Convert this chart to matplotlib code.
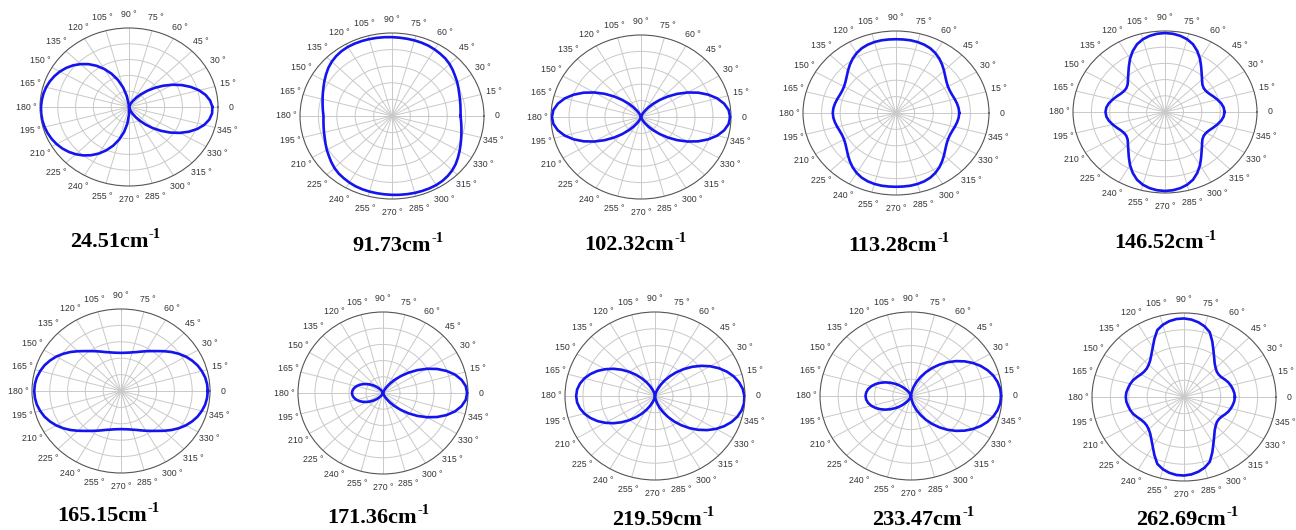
import numpy as np
import matplotlib
matplotlib.use("Agg")
import matplotlib.pyplot as plt
from matplotlib.transforms import IdentityTransform

# ---------------- data ----------------
ANGLES_DEG = list(range(0, 360, 5))           # sampling angles of every curve
TICK_ANGLES = list(range(0, 360, 15))         # labelled angular grid
LABELS = ["24.51", "91.73", "102.32", "113.28", "146.52",
          "165.15", "171.36", "219.59", "233.47", "262.69"]

R_24_51 = [0.937, 0.916, 0.875, 0.815, 0.741, 0.656, 0.564, 0.469, 0.377, 0.290,
           0.212, 0.146, 0.093, 0.053, 0.026, 0.010, 0.002, 0.000, 0.000,
           0.024, 0.142, 0.256, 0.364, 0.465, 0.556, 0.637, 0.708, 0.768, 0.820,
           0.862, 0.897, 0.925, 0.947, 0.964, 0.976, 0.984, 0.989, 0.990, 0.988,
           0.982, 0.972, 0.958, 0.939, 0.915, 0.884, 0.846, 0.800, 0.745, 0.681,
           0.606, 0.521, 0.426, 0.322, 0.211, 0.095,
           0.002, 0.010, 0.026, 0.053, 0.093, 0.146, 0.212, 0.290, 0.377, 0.469,
           0.564, 0.656, 0.741, 0.815, 0.875, 0.916, 0.937]
R_91_73 = [0.745, 0.748, 0.755, 0.765, 0.778, 0.797, 0.818, 0.838, 0.862, 0.885,
           0.903, 0.915, 0.926, 0.935, 0.940, 0.943, 0.945, 0.947, 0.950,
           0.953, 0.956, 0.959, 0.961, 0.962, 0.961, 0.955, 0.943, 0.926, 0.903,
           0.875, 0.848, 0.822, 0.800, 0.781, 0.766, 0.754,
           0.745, 0.748, 0.755, 0.765, 0.778, 0.797, 0.818, 0.838, 0.862, 0.885,
           0.903, 0.915, 0.926, 0.935, 0.940, 0.943, 0.945, 0.947, 0.950,
           0.953, 0.956, 0.959, 0.961, 0.962, 0.961, 0.955, 0.943, 0.926, 0.903,
           0.875, 0.848, 0.822, 0.800, 0.781, 0.766, 0.754]
R_102_32 = [0.990, 0.977, 0.938, 0.877, 0.796, 0.702, 0.598, 0.493, 0.389, 0.294,
            0.211, 0.141, 0.088, 0.049, 0.023, 0.009, 0.002, 0.000, 0.000,
            0.000, 0.002, 0.009, 0.023, 0.049, 0.088, 0.141, 0.211, 0.294, 0.389,
            0.493, 0.598, 0.702, 0.796, 0.877, 0.938, 0.977,
            0.990, 0.977, 0.938, 0.877, 0.796, 0.702, 0.598, 0.493, 0.389, 0.294,
            0.211, 0.141, 0.088, 0.049, 0.023, 0.009, 0.002, 0.000, 0.000,
            0.000, 0.002, 0.009, 0.023, 0.049, 0.088, 0.141, 0.211, 0.294, 0.389,
            0.493, 0.598, 0.702, 0.796, 0.877, 0.938, 0.977]
R_113_28 = [0.680, 0.676, 0.666, 0.654, 0.643, 0.639, 0.645, 0.663, 0.692, 0.730,
            0.771, 0.811, 0.845, 0.871, 0.887, 0.896, 0.900, 0.900, 0.900,
            0.900, 0.900, 0.896, 0.887, 0.871, 0.845, 0.811, 0.771, 0.730, 0.692,
            0.663, 0.645, 0.639, 0.643, 0.654, 0.666, 0.676,
            0.680, 0.676, 0.666, 0.654, 0.643, 0.639, 0.645, 0.663, 0.692, 0.730,
            0.771, 0.811, 0.845, 0.871, 0.887, 0.896, 0.900, 0.900, 0.900,
            0.900, 0.900, 0.896, 0.887, 0.871, 0.845, 0.811, 0.771, 0.730, 0.692,
            0.663, 0.645, 0.639, 0.643, 0.654, 0.666, 0.676]
R_146_52 = [0.647, 0.640, 0.620, 0.590, 0.560, 0.532, 0.515, 0.513, 0.530, 0.569,
            0.620, 0.685, 0.760, 0.830, 0.890, 0.930, 0.955, 0.970, 0.975,
            0.970, 0.955, 0.930, 0.890, 0.830, 0.760, 0.685, 0.620, 0.569, 0.530,
            0.513, 0.515, 0.532, 0.560, 0.590, 0.620, 0.640,
            0.647, 0.640, 0.620, 0.590, 0.560, 0.532, 0.515, 0.513, 0.530, 0.569,
            0.620, 0.685, 0.760, 0.830, 0.890, 0.930, 0.955, 0.970, 0.975,
            0.970, 0.955, 0.930, 0.890, 0.830, 0.760, 0.685, 0.620, 0.569, 0.530,
            0.513, 0.515, 0.532, 0.560, 0.590, 0.620, 0.640]
R_165_15 = [0.975, 0.971, 0.960, 0.940, 0.915, 0.880, 0.840, 0.792, 0.740, 0.686,
            0.635, 0.594, 0.560, 0.530, 0.505, 0.488, 0.475, 0.468, 0.465,
            0.468, 0.475, 0.488, 0.505, 0.530, 0.560, 0.594, 0.635, 0.686, 0.740,
            0.792, 0.840, 0.880, 0.915, 0.940, 0.960, 0.971,
            0.975, 0.971, 0.960, 0.940, 0.915, 0.880, 0.840, 0.792, 0.740, 0.686,
            0.635, 0.594, 0.560, 0.530, 0.505, 0.488, 0.475, 0.468, 0.465,
            0.468, 0.475, 0.488, 0.505, 0.530, 0.560, 0.594, 0.635, 0.686, 0.740,
            0.792, 0.840, 0.880, 0.915, 0.940, 0.960, 0.971]
R_171_36 = [0.990, 0.977, 0.938, 0.877, 0.796, 0.702, 0.598, 0.493, 0.389, 0.294,
            0.211, 0.141, 0.088, 0.049, 0.023, 0.009, 0.002, 0.000, 0.000,
            0.000, 0.001, 0.003, 0.009, 0.018, 0.032, 0.052, 0.078, 0.109, 0.144,
            0.182, 0.221, 0.259, 0.294, 0.323, 0.346, 0.360,
            0.365,
            0.360, 0.346, 0.323, 0.294, 0.259, 0.221, 0.182, 0.144, 0.109, 0.078,
            0.052, 0.032, 0.018, 0.009, 0.003, 0.001, 0.000,
            0.000,
            0.000, 0.002, 0.009, 0.023, 0.049, 0.088, 0.141, 0.211, 0.294, 0.389,
            0.493, 0.598, 0.702, 0.796, 0.877, 0.938, 0.977]
R_219_59 = [0.993, 0.978, 0.948, 0.905, 0.849, 0.783, 0.708, 0.626, 0.541, 0.454,
            0.369, 0.287, 0.212, 0.146, 0.090, 0.047, 0.017, 0.002, 0.000,
            0.004, 0.019, 0.045, 0.083, 0.132, 0.191, 0.258, 0.331, 0.409, 0.487,
            0.565, 0.638, 0.706, 0.764, 0.812, 0.847, 0.869,
            0.876,
            0.869, 0.847, 0.812, 0.764, 0.706, 0.638, 0.565, 0.487, 0.409, 0.331,
            0.258, 0.191, 0.132, 0.083, 0.045, 0.019, 0.004,
            0.002,
            0.017, 0.047, 0.090, 0.146, 0.212, 0.287, 0.369, 0.454, 0.541, 0.626,
            0.708, 0.783, 0.849, 0.905, 0.948, 0.978, 0.993]
R_233_47 = [0.990, 0.984, 0.966, 0.937, 0.896, 0.846, 0.786, 0.719, 0.646, 0.569,
            0.488, 0.407, 0.327, 0.250, 0.178, 0.114, 0.060, 0.020, 0.000,
            0.000, 0.003, 0.009, 0.020, 0.038, 0.063, 0.094, 0.133, 0.177, 0.225,
            0.275, 0.325, 0.372, 0.415, 0.451, 0.478, 0.494,
            0.500,
            0.494, 0.478, 0.451, 0.415, 0.372, 0.325, 0.275, 0.225, 0.177, 0.133,
            0.094, 0.063, 0.038, 0.020, 0.009, 0.003, 0.000,
            0.000,
            0.020, 0.060, 0.114, 0.178, 0.250, 0.327, 0.407, 0.488, 0.569, 0.646,
            0.719, 0.786, 0.846, 0.896, 0.937, 0.966, 0.984]
R_262_69 = [0.553, 0.549, 0.539, 0.527, 0.512, 0.491, 0.470, 0.462, 0.466, 0.487,
            0.519, 0.572, 0.640, 0.728, 0.820, 0.870, 0.903, 0.925, 0.935,
            0.932, 0.917, 0.890, 0.848, 0.762, 0.680, 0.618, 0.571, 0.543, 0.528,
            0.528, 0.540, 0.563, 0.588, 0.605, 0.617, 0.629,
            0.633,
            0.629, 0.617, 0.605, 0.588, 0.563, 0.540, 0.528, 0.528, 0.543, 0.571,
            0.618, 0.680, 0.762, 0.848, 0.890, 0.917, 0.932,
            0.935,
            0.925, 0.903, 0.870, 0.820, 0.728, 0.640, 0.572, 0.519, 0.487, 0.466,
            0.462, 0.470, 0.491, 0.512, 0.527, 0.539, 0.549]

SERIES = [R_24_51, R_91_73, R_102_32, R_113_28, R_146_52,
          R_165_15, R_171_36, R_219_59, R_233_47, R_262_69]

# ---------------- layout (pixels in the 1296x530 canvas) ----------------
W, H = 1296, 530
# centre x, centre y, radius x, radius y of each polar ellipse
PANELS = [(129, 107, 89, 79), (392, 116, 92, 83), (641, 117, 90, 82),
          (896, 113, 93, 82), (1165, 112, 92, 81),
          (121, 391, 89, 82), (383, 393, 85, 81), (655, 396, 90, 84),
          (911, 396, 91, 84), (1184, 397, 92, 84)]
# label centre x, baseline y
LABEL_POS = [(115, 247), (398, 251), (635, 250), (899, 251), (1165, 248),
             (108, 521), (378, 523), (663, 525), (923, 525), (1187, 525)]

plt.rcParams["font.family"] = ["Liberation Sans", "DejaVu Sans"]

fig = plt.figure(figsize=(W / 100, H / 100), dpi=100)
fig.patch.set_facecolor("white")

theta_closed = np.deg2rad(ANGLES_DEG + [ANGLES_DEG[0] + 360])
tick_labels = ["0" if a == 0 else f"{a} \u00b0" for a in TICK_ANGLES]

for (cx, cy, rx, ry), vals in zip(PANELS, SERIES):
    ax = fig.add_axes([(cx - rx) / W, 1 - (cy + ry) / H, 2 * rx / W, 2 * ry / H],
                      projection="polar")
    ax.set_aspect("auto")
    ax.plot(theta_closed, list(vals) + [vals[0]], color="#1414ee", lw=1.9,
            solid_joinstyle="round", zorder=5)
    ax.set_ylim(0, 1)
    ax.set_yticks([0.2, 0.4, 0.6, 0.8])
    ax.set_yticklabels([])
    ax.set_xticks(np.deg2rad(TICK_ANGLES))
    ax.set_xticklabels(tick_labels)
    ax.set_xticks(np.deg2rad(np.arange(0, 360, 5)), minor=True)
    ax.tick_params(axis="x", which="major", labelsize=6.3, labelcolor="#333333",
                   pad=0, length=2.5, width=0.6, color="#666666")
    ax.tick_params(axis="x", which="minor", length=1.8, width=0.5, color="#777777")
    ax.tick_params(axis="y", length=0)
    ax.grid(True, which="major", color="#c9c9c9", lw=0.7)
    ax.spines["polar"].set_color("#555555")
    ax.spines["polar"].set_linewidth(0.8)

# wavenumber labels: bold serif text with a raised "-1"
renderer = fig.canvas.get_renderer()
for lab, (lx, ly) in zip(LABELS, LABEL_POS):
    main = fig.text(0, 0, lab + "cm", transform=IdentityTransform(),
                    family="Liberation Serif", fontweight="bold", fontsize=16,
                    ha="left", va="baseline", color="black")
    sup = fig.text(0, 0, "-1", transform=IdentityTransform(),
                   family="Liberation Serif", fontweight="bold", fontsize=10.5,
                   ha="left", va="baseline", color="black")
    w1 = main.get_window_extent(renderer).width
    w2 = sup.get_window_extent(renderer).width
    x0 = lx - (w1 + w2) / 2
    yb = H - ly
    main.set_position((x0, yb))
    sup.set_position((x0 + w1 + 0.5, yb + 8.5))

fig.savefig("out.png", dpi=100, facecolor="white")
